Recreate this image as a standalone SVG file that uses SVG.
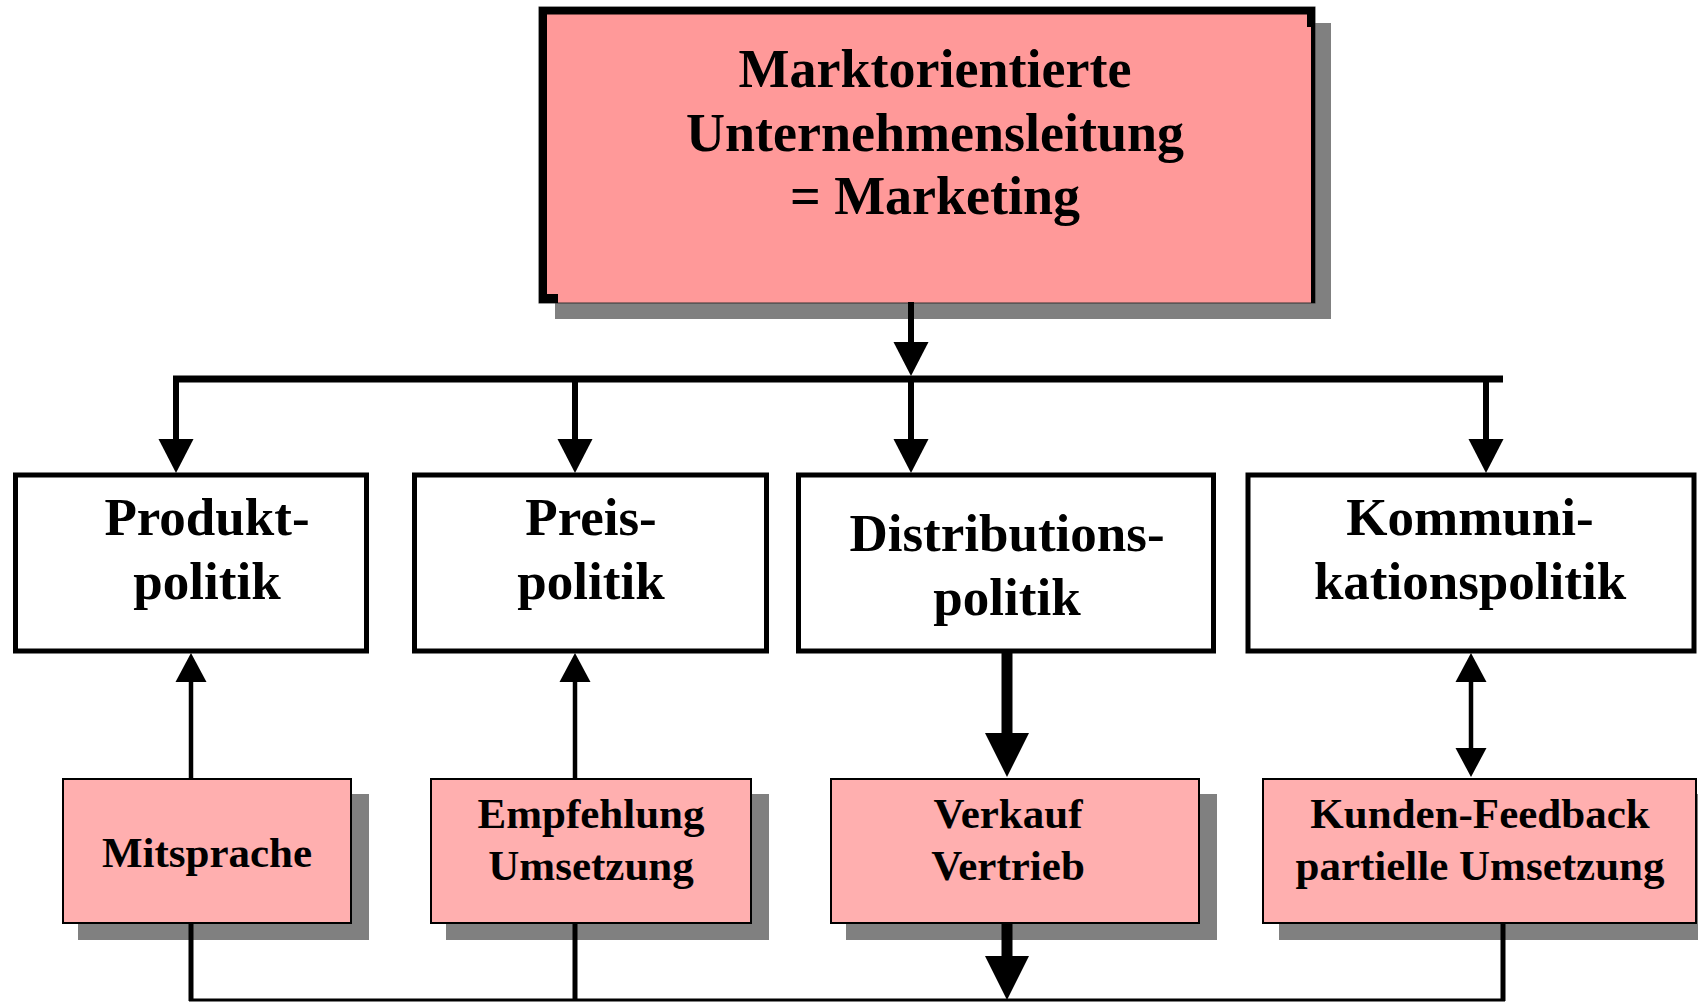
<svg xmlns="http://www.w3.org/2000/svg" width="1698" height="1002" viewBox="0 0 1698 1002">
  <style>
    text { font-family: "Liberation Serif", "Times New Roman", serif; font-weight: bold; fill: #000; text-anchor: middle; }
    .t-top { font-size: 54px; }
    .t-mid { font-size: 53px; }
    .t-low { font-size: 43px; }
    .shadow { fill: #808080; }
    .box-mid { fill: #fff; stroke: #000; stroke-width: 5; }
    .box-low { fill: #FFAFAF; stroke: #000; stroke-width: 2; }
    .wire { fill: none; stroke: #000; stroke-linecap: butt; }
  </style>
  <defs>
    <marker id="head-lg" markerUnits="userSpaceOnUse" markerWidth="34" markerHeight="35" refX="0" refY="17.5" orient="auto" overflow="visible">
      <path d="M0,0 L34,17.5 L0,35 Z" fill="#000"/>
    </marker>
    <marker id="head-sm" markerUnits="userSpaceOnUse" markerWidth="29" markerHeight="31" refX="0" refY="15.5" orient="auto-start-reverse" overflow="visible">
      <path d="M0,0 L29,15.5 L0,31 Z" fill="#000"/>
    </marker>
    <marker id="head-xl" markerUnits="userSpaceOnUse" markerWidth="44" markerHeight="44" refX="0" refY="22" orient="auto" overflow="visible">
      <path d="M0,0 L44,22 L0,44 Z" fill="#000"/>
    </marker>
  </defs>

  <rect width="1698" height="1002" fill="#fff"/>

  <!-- top node -->
  <g id="marketing">
    <rect class="shadow" x="555" y="23" width="776" height="296"/>
    <rect x="539" y="7" width="776" height="296" fill="#FF9999" stroke="#333" stroke-width="1"/>
    <rect x="539" y="7" width="776" height="7.5" fill="#000"/>
    <rect x="539" y="7" width="8" height="296" fill="#000"/>
    <rect x="1311" y="7" width="4" height="296" fill="#000"/>
    <rect x="1307" y="7" width="8" height="20" fill="#000"/>
    <rect x="539" y="294" width="19" height="9" fill="#000"/>
    <text class="t-top" x="935" y="87">Marktorientierte</text>
    <text class="t-top" x="935" y="151">Unternehmensleitung</text>
    <text class="t-top" x="935" y="214">= Marketing</text>
  </g>

  <!-- policy nodes -->
  <g id="produktpolitik">
    <rect class="box-mid" x="15.5" y="475" width="351" height="176"/>
    <text class="t-mid" x="207" y="535">Produkt-</text>
    <text class="t-mid" x="207" y="599">politik</text>
  </g>
  <g id="preispolitik">
    <rect class="box-mid" x="414.5" y="475" width="352" height="176"/>
    <text class="t-mid" x="591" y="535">Preis-</text>
    <text class="t-mid" x="591" y="599">politik</text>
  </g>
  <g id="distributionspolitik">
    <rect class="box-mid" x="798.5" y="475" width="415" height="176"/>
    <text class="t-mid" x="1007" y="551">Distributions-</text>
    <text class="t-mid" x="1007" y="615">politik</text>
  </g>
  <g id="kommunikationspolitik">
    <rect class="box-mid" x="1248" y="475" width="446" height="176"/>
    <text class="t-mid" x="1470" y="535">Kommuni-</text>
    <text class="t-mid" x="1470" y="599">kationspolitik</text>
  </g>

  <!-- customer-side nodes -->
  <g id="mitsprache">
    <rect class="shadow" x="78" y="794" width="291" height="146"/>
    <rect class="box-low" x="63" y="779" width="288" height="144"/>
    <text class="t-low" x="207" y="867">Mitsprache</text>
  </g>
  <g id="empfehlung">
    <rect class="shadow" x="446" y="794" width="323" height="146"/>
    <rect class="box-low" x="431" y="779" width="320" height="144"/>
    <text class="t-low" x="591" y="828">Empfehlung</text>
    <text class="t-low" x="591" y="880">Umsetzung</text>
  </g>
  <g id="verkauf">
    <rect class="shadow" x="846" y="794" width="371" height="146"/>
    <rect class="box-low" x="831" y="779" width="368" height="144"/>
    <text class="t-low" x="1008" y="828">Verkauf</text>
    <text class="t-low" x="1008" y="880">Vertrieb</text>
  </g>
  <g id="kunden-feedback">
    <rect class="shadow" x="1279" y="794" width="419" height="146"/>
    <rect class="box-low" x="1263" y="779" width="433" height="144"/>
    <text class="t-low" x="1480" y="828">Kunden-Feedback</text>
    <text class="t-low" x="1480" y="880">partielle Umsetzung</text>
  </g>

  <!-- connectors -->
  <g id="connectors">
    <line class="wire" x1="911" y1="302" x2="911" y2="342" stroke-width="6" marker-end="url(#head-lg)"/>
    <line class="wire" x1="173" y1="379" x2="1503" y2="379" stroke-width="7"/>
    <line class="wire" x1="176" y1="376" x2="176" y2="439" stroke-width="6" marker-end="url(#head-lg)"/>
    <line class="wire" x1="575" y1="376" x2="575" y2="439" stroke-width="6" marker-end="url(#head-lg)"/>
    <line class="wire" x1="911" y1="376" x2="911" y2="439" stroke-width="6" marker-end="url(#head-lg)"/>
    <line class="wire" x1="1486" y1="376" x2="1486" y2="439" stroke-width="6" marker-end="url(#head-lg)"/>

    <line class="wire" x1="191" y1="779" x2="191" y2="682" stroke-width="4.5" marker-end="url(#head-sm)"/>
    <line class="wire" x1="575" y1="779" x2="575" y2="682" stroke-width="4.5" marker-end="url(#head-sm)"/>
    <line class="wire" x1="1007" y1="653" x2="1007" y2="733" stroke-width="11" marker-end="url(#head-xl)"/>
    <line class="wire" x1="1471" y1="682" x2="1471" y2="748" stroke-width="4.5" marker-start="url(#head-sm)" marker-end="url(#head-sm)"/>

    <line class="wire" x1="191" y1="923" x2="191" y2="1001" stroke-width="5"/>
    <line class="wire" x1="575" y1="923" x2="575" y2="1001" stroke-width="5"/>
    <line class="wire" x1="1503" y1="923" x2="1503" y2="1001" stroke-width="5"/>
    <line class="wire" x1="189" y1="1000" x2="1505" y2="1000" stroke-width="3"/>
    <line class="wire" x1="1007" y1="923" x2="1007" y2="956" stroke-width="11" marker-end="url(#head-xl)"/>
  </g>
</svg>
